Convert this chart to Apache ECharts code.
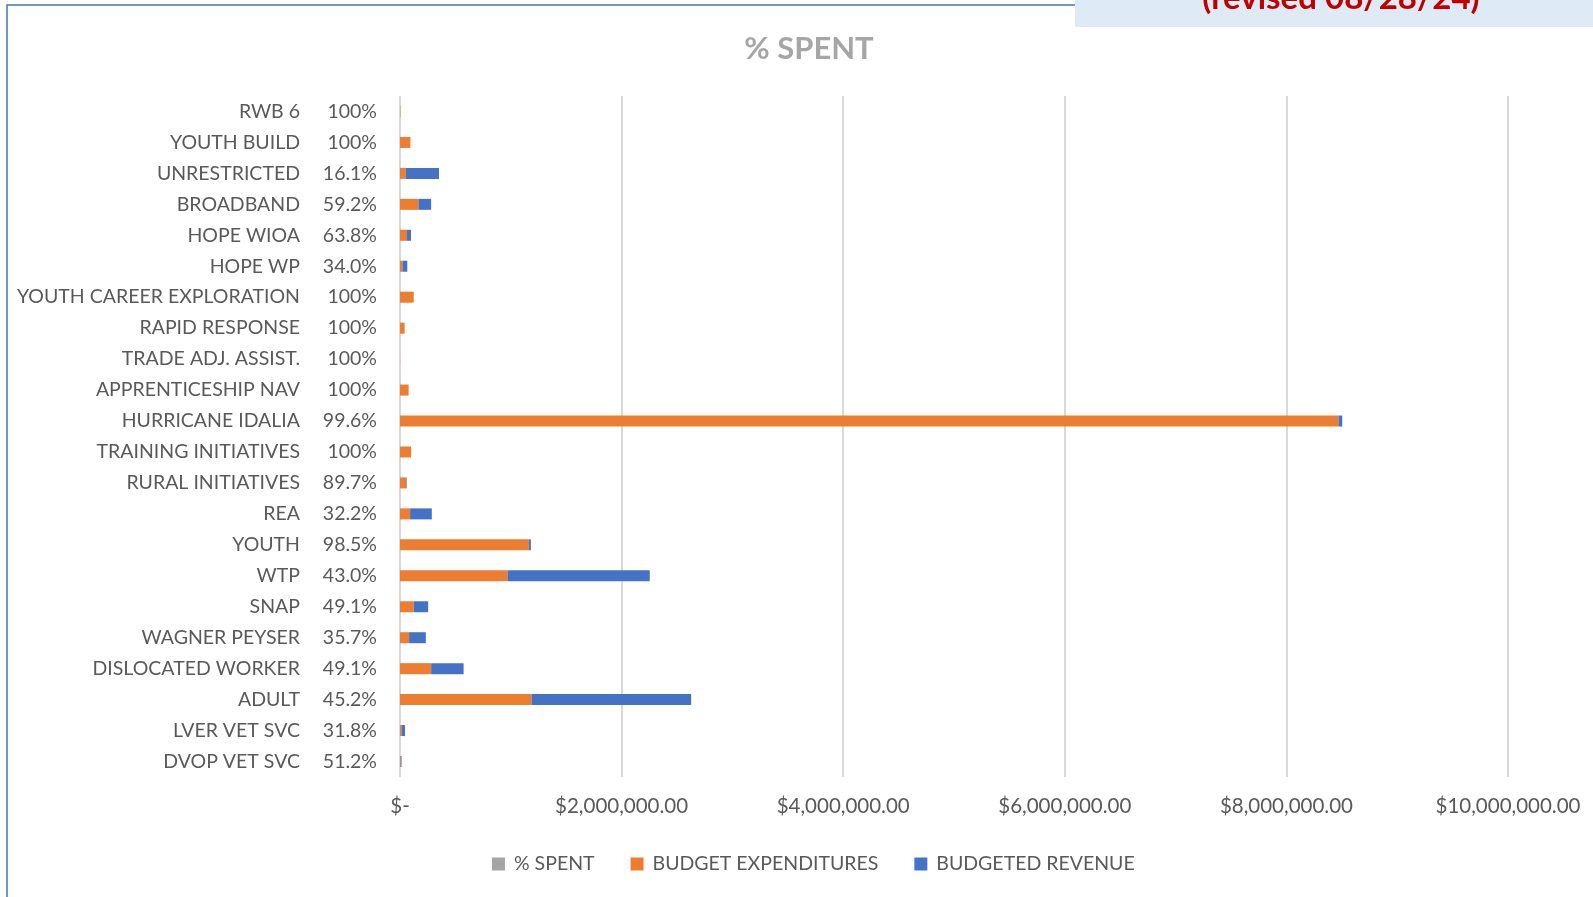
<!doctype html>
<html lang="en">
<head>
    <meta charset="UTF-8">
    <title>% SPENT</title>
    <style>
        *{
            margin:0;
            padding:0;
        }
        html,body {
            height:100%;
            background:#fff;
        }
        #main{
            width:1593px;
            height:897px;
        }
    </style>
</head>
<body>

<div id="main"></div>
<script src="https://cdn.jsdelivr.net/npm/echarts@6/dist/echarts.min.js"></script>
<script>

    // top to bottom, as in the sheet
    var programs = ['RWB 6', 'YOUTH BUILD', 'UNRESTRICTED', 'BROADBAND', 'HOPE WIOA', 'HOPE WP',
        'YOUTH CAREER EXPLORATION', 'RAPID RESPONSE', 'TRADE ADJ. ASSIST.', 'APPRENTICESHIP NAV',
        'HURRICANE IDALIA', 'TRAINING INITIATIVES', 'RURAL INITIATIVES', 'REA', 'YOUTH', 'WTP',
        'SNAP', 'WAGNER PEYSER', 'DISLOCATED WORKER', 'ADULT', 'LVER VET SVC', 'DVOP VET SVC'];

    var pctSpent = [100, 100, 16.1, 59.2, 63.8, 34.0, 100, 100, 100, 100, 99.6, 100, 89.7, 32.2,
        98.5, 43.0, 49.1, 35.7, 49.1, 45.2, 31.8, 51.2];

    var expenditures = [4000, 94000, 52000, 166000, 63000, 22000, 124000, 42000, 1000, 78000,
        8470000, 100000, 54000, 91000, 1163000, 970000, 124000, 82000, 281000, 1187000, 14000, 7000];

    var revenueLeft = [0, 0, 300000, 115000, 36000, 44000, 0, 0, 0, 0,
        34000, 0, 6000, 196000, 18000, 1284000, 130000, 151000, 293000, 1441000, 31000, 7000];

    var xTicks = [0, 2000000, 4000000, 6000000, 8000000, 10000000];

    var textColor = '#595959';
    var font = 'Lato';

    function pctText(v) {
        return v === 100 ? '100%' : v.toFixed(1) + '%';
    }

    function money(v) {
        if (v === 0) return '$-';
        return '$' + v.toLocaleString('en-US', {minimumFractionDigits: 2, maximumFractionDigits: 2});
    }

    var myChart = echarts.init(document.getElementById('main'));

    myChart.setOption({
        animation: false,
        textStyle: {fontFamily: font},
        title: {
            text: '% SPENT',
            left: 804,
            top: 28,
            textAlign: 'center',
            textStyle: {
                color: '#a6a6a6',
                fontSize: 31,
                fontWeight: 'bold',
                fontFamily: font
            }
        },
        grid: {
            left: 400,
            right: 85,
            top: 96,
            bottom: 120
        },
        legend: {
            bottom: 18,
            left: 487,
            itemWidth: 13,
            itemHeight: 13,
            itemGap: 36,
            icon: 'rect',
            textStyle: {color: textColor, fontSize: 19.5, fontFamily: font, padding: [0, 0, 0, 4]},
            data: ['% SPENT', 'BUDGET EXPENDITURES', 'BUDGETED REVENUE']
        },
        xAxis: {
            type: 'value',
            min: xTicks[0],
            max: xTicks[xTicks.length - 1],
            interval: xTicks[1] - xTicks[0],
            axisLine: {show: false},
            axisTick: {show: false},
            splitLine: {lineStyle: {color: '#d9d9d9', width: 2}},
            axisLabel: {
                color: textColor,
                fontSize: 20.5,
                margin: 19,
                formatter: money
            }
        },
        yAxis: {
            type: 'category',
            inverse: true,
            data: programs,
            axisLine: {show: false},
            axisTick: {show: false},
            axisLabel: {
                margin: 23,
                formatter: function (value, index) {
                    return '{n|' + value + '}{p|' + pctText(pctSpent[index]) + '}';
                },
                rich: {
                    n: {width: 290, align: 'right', color: textColor, fontSize: 19.5, fontFamily: font},
                    p: {width: 77, align: 'right', color: textColor, fontSize: 19.5, fontFamily: font}
                }
            }
        },
        graphic: [
            {
                type: 'rect',
                shape: {x: 7, y: 5, width: 1600, height: 900},
                style: {fill: 'none', stroke: '#4472c4', lineWidth: 1.5},
                z: 0
            },
            {
                type: 'rect',
                shape: {x: 1075, y: 0, width: 518, height: 27},
                style: {fill: '#deebf7'},
                z: 1
            },
            {
                type: 'text',
                x: 1341,
                y: 15,
                style: {
                    text: '(revised 08/28/24)',
                    fill: '#c00000',
                    fontSize: 33,
                    fontWeight: 'bold',
                    fontFamily: font,
                    align: 'center',
                    verticalAlign: 'bottom'
                },
                z: 2
            }
        ],
        series: [
            {
                name: '% SPENT',
                type: 'bar',
                stack: 'total',
                barWidth: 11,
                itemStyle: {color: '#a5a5a5'},
                data: pctSpent.map(function (v) { return v / 100; })
            },
            {
                name: 'BUDGET EXPENDITURES',
                type: 'bar',
                stack: 'total',
                barWidth: 11,
                itemStyle: {color: '#ed7d31'},
                data: expenditures
            },
            {
                name: 'BUDGETED REVENUE',
                type: 'bar',
                stack: 'total',
                barWidth: 11,
                itemStyle: {color: '#4472c4'},
                data: revenueLeft
            }
        ]
    });

</script>
</body>
</html>
